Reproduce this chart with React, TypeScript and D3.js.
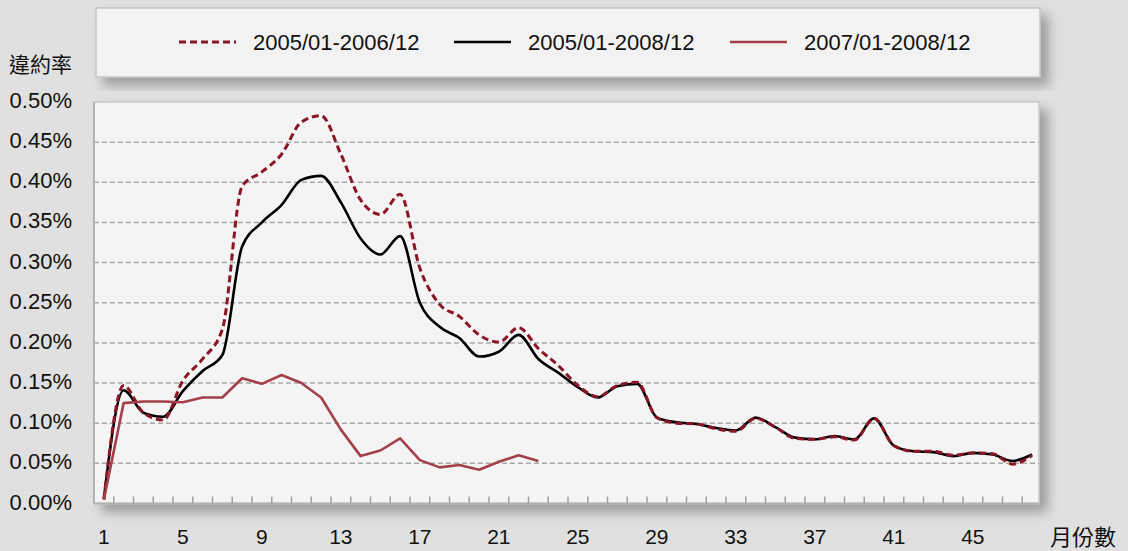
import React, { useRef, useEffect } from 'react';
import * as d3 from 'd3';

// months since origination (category axis)
const months = [
  1, 2, 3, 4, 5, 6, 7, 8, 9, 10, 11, 12, 13, 14, 15, 16, 17, 18, 19, 20, 21, 22, 23, 24,
  25, 26, 27, 28, 29, 30, 31, 32, 33, 34, 35, 36, 37, 38, 39, 40, 41, 42, 43, 44, 45, 46, 47, 48,
];
const xTickLabels = [1, 5, 9, 13, 17, 21, 25, 29, 33, 37, 41, 45];
const yTicks = [0, 0.05, 0.1, 0.15, 0.2, 0.25, 0.3, 0.35, 0.4, 0.45, 0.5];

const seriesNames = ['2005/01-2006/12', '2005/01-2008/12', '2007/01-2008/12'];

// default rate, %
const rate0506 = [
  0.005, 0.147, 0.113, 0.104, 0.153, 0.18, 0.217, 0.395, 0.413, 0.435, 0.475, 0.483,
  0.435, 0.378, 0.36, 0.385, 0.293, 0.248, 0.233, 0.21, 0.201, 0.219, 0.193, 0.172,
  0.147, 0.133, 0.147, 0.151, 0.107, 0.1, 0.099, 0.093, 0.09, 0.106, 0.095, 0.081,
  0.08, 0.083, 0.079, 0.106, 0.072, 0.065, 0.065, 0.06, 0.063, 0.062, 0.049, 0.06,
];
const rate0508 = [
  0.006, 0.141, 0.113, 0.108, 0.14, 0.165, 0.185, 0.32, 0.35, 0.372, 0.403, 0.408,
  0.375, 0.33, 0.31, 0.333, 0.25, 0.22, 0.206, 0.183, 0.189, 0.21, 0.18, 0.163,
  0.145, 0.132, 0.146, 0.149, 0.107, 0.101, 0.099, 0.094, 0.091, 0.107, 0.095, 0.082,
  0.08, 0.084, 0.08, 0.106, 0.072, 0.065, 0.064, 0.059, 0.063, 0.061, 0.053, 0.061,
];
const rate0708 = [
  0.005, 0.125, 0.127, 0.127, 0.126, 0.132, 0.132, 0.156, 0.149, 0.16, 0.15, 0.132,
  0.092, 0.059, 0.066, 0.081, 0.054, 0.045, 0.048, 0.042, 0.052, 0.06, 0.053,
];

const App = () => {
  const svgRef = useRef(null);

  useEffect(() => {
    const width = 1128;
    const height = 551;
    const plot = { left: 94, top: 102, right: 1039, bottom: 503.5 };

    const svg = d3.select(svgRef.current)
      .attr('width', width)
      .attr('height', height);

    svg.selectAll('*').remove();

    const defs = svg.append('defs');
    const shadow = defs.append('filter')
      .attr('id', 'shadow')
      .attr('x', '-5%').attr('y', '-10%')
      .attr('width', '115%').attr('height', '130%');
    shadow.append('feDropShadow')
      .attr('dx', 8).attr('dy', 8)
      .attr('stdDeviation', 6)
      .attr('flood-color', '#000')
      .attr('flood-opacity', 0.3);

    svg.append('rect')
      .attr('width', width).attr('height', height)
      .attr('fill', '#dfe0df');

    // legend box
    svg.append('rect')
      .attr('x', 96).attr('y', 8)
      .attr('width', 944).attr('height', 69)
      .attr('fill', '#f2f2f2')
      .attr('stroke', '#c4c4c4')
      .attr('stroke-width', 1.5)
      .attr('filter', 'url(#shadow)');

    // plot panel
    svg.append('rect')
      .attr('x', plot.left).attr('y', plot.top)
      .attr('width', plot.right - plot.left).attr('height', plot.bottom - plot.top)
      .attr('fill', '#f4f4f4')
      .attr('stroke', '#c8c8c8')
      .attr('stroke-width', 1.5)
      .attr('filter', 'url(#shadow)');

    const x = d3.scaleLinear()
      .domain([0.5, 48.5])
      .range([plot.left, 1042]);

    const y = d3.scaleLinear()
      .domain([0, 0.5])
      .range([plot.bottom, plot.top]);

    // gridlines
    svg.append('g')
      .selectAll('line')
      .data(yTicks.filter(t => t > 0 && t < 0.5))
      .join('line')
      .attr('x1', plot.left).attr('x2', plot.right)
      .attr('y1', d => y(d)).attr('y2', d => y(d))
      .attr('stroke', '#a8a8a8')
      .attr('stroke-width', 1.5)
      .attr('stroke-dasharray', '5,3');

    // left and bottom axis lines
    svg.append('line')
      .attr('x1', plot.left).attr('x2', plot.left)
      .attr('y1', plot.top).attr('y2', plot.bottom)
      .attr('stroke', '#b4b4b4').attr('stroke-width', 2);
    svg.append('line')
      .attr('x1', plot.left).attr('x2', plot.right)
      .attr('y1', plot.bottom).attr('y2', plot.bottom)
      .attr('stroke', '#b0b0b0').attr('stroke-width', 2);

    // category ticks between months
    svg.append('g')
      .selectAll('line')
      .data(months.slice(0, -1))
      .join('line')
      .attr('x1', d => x(d + 0.5)).attr('x2', d => x(d + 0.5))
      .attr('y1', plot.bottom).attr('y2', plot.bottom - 7)
      .attr('stroke', '#a0a0a0')
      .attr('stroke-width', 1.5);

    // y labels
    svg.append('g')
      .selectAll('text')
      .data(yTicks)
      .join('text')
      .attr('x', 72)
      .attr('y', d => y(d) + 6)
      .attr('text-anchor', 'end')
      .attr('font-family', '"Liberation Sans", Arial, sans-serif')
      .attr('font-size', 22)
      .attr('fill', '#111')
      .text(d => d3.format('.2f')(d) + '%');

    // x labels
    svg.append('g')
      .selectAll('text')
      .data(xTickLabels)
      .join('text')
      .attr('x', d => x(d))
      .attr('y', 544)
      .attr('text-anchor', 'middle')
      .attr('font-family', '"Liberation Sans", Arial, sans-serif')
      .attr('font-size', 21)
      .attr('fill', '#111')
      .text(d => d);

    svg.append('text')
      .attr('x', 9).attr('y', 72)
      .attr('font-family', '"Noto Sans CJK TC", sans-serif')
      .attr('font-size', 21)
      .attr('fill', '#111')
      .text('違約率');

    svg.append('text')
      .attr('x', 1050).attr('y', 545)
      .attr('font-family', '"Noto Sans CJK TC", sans-serif')
      .attr('font-size', 22)
      .attr('fill', '#111')
      .text('月份數');

    const smooth = d3.line()
      .x((d, i) => x(months[i]))
      .y(d => y(d))
      .curve(d3.curveMonotoneX);

    const straight = d3.line()
      .x((d, i) => x(months[i]))
      .y(d => y(d));

    const styles = [
      { color: '#8a1526', width: 3, dash: '7,4' },
      { color: '#000000', width: 2.6, dash: null },
      { color: '#a3404b', width: 2.6, dash: null },
    ];

    svg.append('path')
      .datum(rate0508)
      .attr('fill', 'none')
      .attr('stroke', styles[1].color)
      .attr('stroke-width', styles[1].width)
      .attr('d', smooth);

    svg.append('path')
      .datum(rate0506)
      .attr('fill', 'none')
      .attr('stroke', styles[0].color)
      .attr('stroke-width', styles[0].width)
      .attr('stroke-dasharray', styles[0].dash)
      .attr('d', smooth);

    svg.append('path')
      .datum(rate0708)
      .attr('fill', 'none')
      .attr('stroke', styles[2].color)
      .attr('stroke-width', styles[2].width)
      .attr('stroke-linejoin', 'round')
      .attr('d', straight);

    // legend entries
    const legendX = [179, 454, 730];
    const legend = svg.append('g')
      .selectAll('g')
      .data(seriesNames)
      .join('g')
      .attr('transform', (d, i) => `translate(${legendX[i]},42)`);

    legend.append('line')
      .attr('x1', 0).attr('x2', 57)
      .attr('stroke', (d, i) => styles[i].color)
      .attr('stroke-width', (d, i) => styles[i].width)
      .attr('stroke-dasharray', (d, i) => styles[i].dash);

    legend.append('text')
      .attr('x', 74)
      .attr('y', 8)
      .attr('font-family', '"Liberation Sans", Arial, sans-serif')
      .attr('font-size', 22)
      .attr('fill', '#111')
      .text(d => d);
  }, []);

  return (
    <svg ref={svgRef} style={{ position: 'absolute', left: 0, top: 0 }}></svg>
  );
};

export default App;
